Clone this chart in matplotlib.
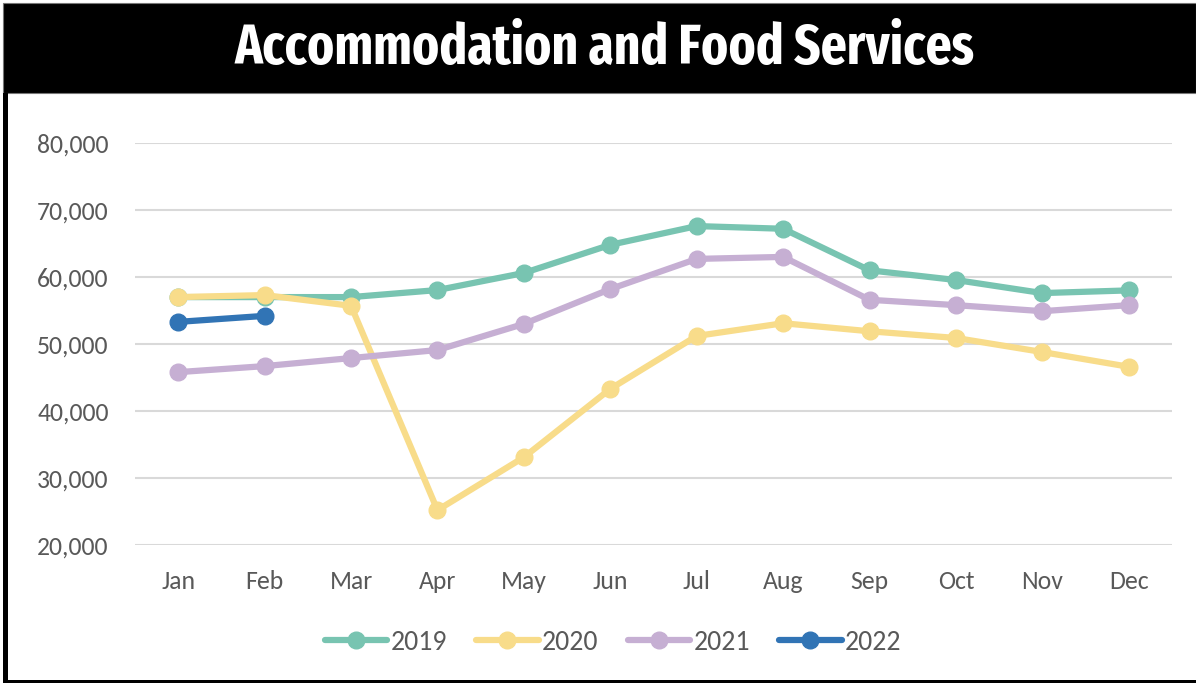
import matplotlib
matplotlib.use("Agg")
import matplotlib.pyplot as plt
from matplotlib.patches import Rectangle
from matplotlib.ticker import FuncFormatter
from matplotlib import font_manager

months = ["Jan", "Feb", "Mar", "Apr", "May", "Jun", "Jul", "Aug", "Sep", "Oct", "Nov", "Dec"]
y2019 = [57000, 57000, 57000, 58050, 60600, 64800, 67600, 67200, 61000, 59550, 57600, 58000]
y2020 = [57000, 57300, 55700, 25200, 33100, 43300, 51200, 53100, 51900, 50900, 48800, 46600]
y2021 = [45800, 46700, 47900, 49100, 53000, 58200, 62700, 63000, 56600, 55800, 54900, 55800]
y2022 = [53300, 54200]
series_names = ["2019", "2020", "2021", "2022"]
colors = ["#78C4B1", "#F8DC8A", "#C6AFD3", "#3174B5"]

names = {f.name for f in font_manager.fontManager.ttflist}


def pick(cands, default):
    for c in cands:
        if c in names:
            return c
    return default


title_family = pick(["Fira Sans Extra Condensed", "PT Sans Narrow", "Fira Sans Condensed",
                     "Asap Condensed", "IBM Plex Sans Condensed"], "DejaVu Sans")
body_family = pick(["Carlito", "Lato"], "DejaVu Sans")

W, H = 1196, 683
fig = plt.figure(figsize=(W / 100, H / 100), dpi=100)

fig.patches.append(Rectangle((3 / W, 1 - 93 / H), 1 - 3 / W, 90 / H, transform=fig.transFigure,
                             facecolor="black", edgecolor="#777777", linewidth=0.8, zorder=0))
fig.patches.append(Rectangle((3 / W, 0), 5 / W, 1 - 93 / H, transform=fig.transFigure,
                             facecolor="black", edgecolor="none", zorder=0))
fig.patches.append(Rectangle((3 / W, 0), 1 - 3 / W, 3 / H, transform=fig.transFigure,
                             facecolor="black", edgecolor="none", zorder=0))
fig.text(604 / W, 1 - 49 / H, "Accommodation and Food Services", color="white",
         fontsize=40, fontweight="bold", family=title_family,
         ha="center", va="center")

ax = fig.add_axes([135 / W, 1 - 545 / H, (1172 - 135) / W, (545 - 143) / H])
x = list(range(len(months)))
data = [y2019, y2020, y2021, y2022]
for name, vals, c in zip(series_names, data, colors):
    ax.plot(x[:len(vals)], vals, color=c, linewidth=4.5, marker="o", markersize=12,
            solid_capstyle="round", label=name, zorder=3)

ax.set_ylim(20000, 80000)
ax.set_yticks(range(20000, 80001, 10000))
ax.yaxis.set_major_formatter(FuncFormatter(lambda v, p: f"{int(v):,}"))
ax.set_xlim(-0.5, 11.5)
ax.set_xticks(x)
ax.set_xticklabels(months)
ax.grid(axis="y", color="#D9D9D9", linewidth=1.5)
ax.set_axisbelow(True)
for s in ax.spines.values():
    s.set_visible(False)
ax.tick_params(axis="both", length=0, labelsize=18.5, labelcolor="#595959")
ax.tick_params(axis="y", pad=19)
ax.tick_params(axis="x", pad=18)
for lab in ax.get_xticklabels() + ax.get_yticklabels():
    lab.set_family(body_family)

leg = fig.legend(loc="center", bbox_to_anchor=(613 / W, 1 - 642 / H), ncol=4, frameon=False,
                 prop={"family": body_family, "size": 20}, handlelength=2.25, columnspacing=1.05,
                 handletextpad=0.12)
for t in leg.get_texts():
    t.set_color("#595959")

fig.savefig("out.png", dpi=100)
